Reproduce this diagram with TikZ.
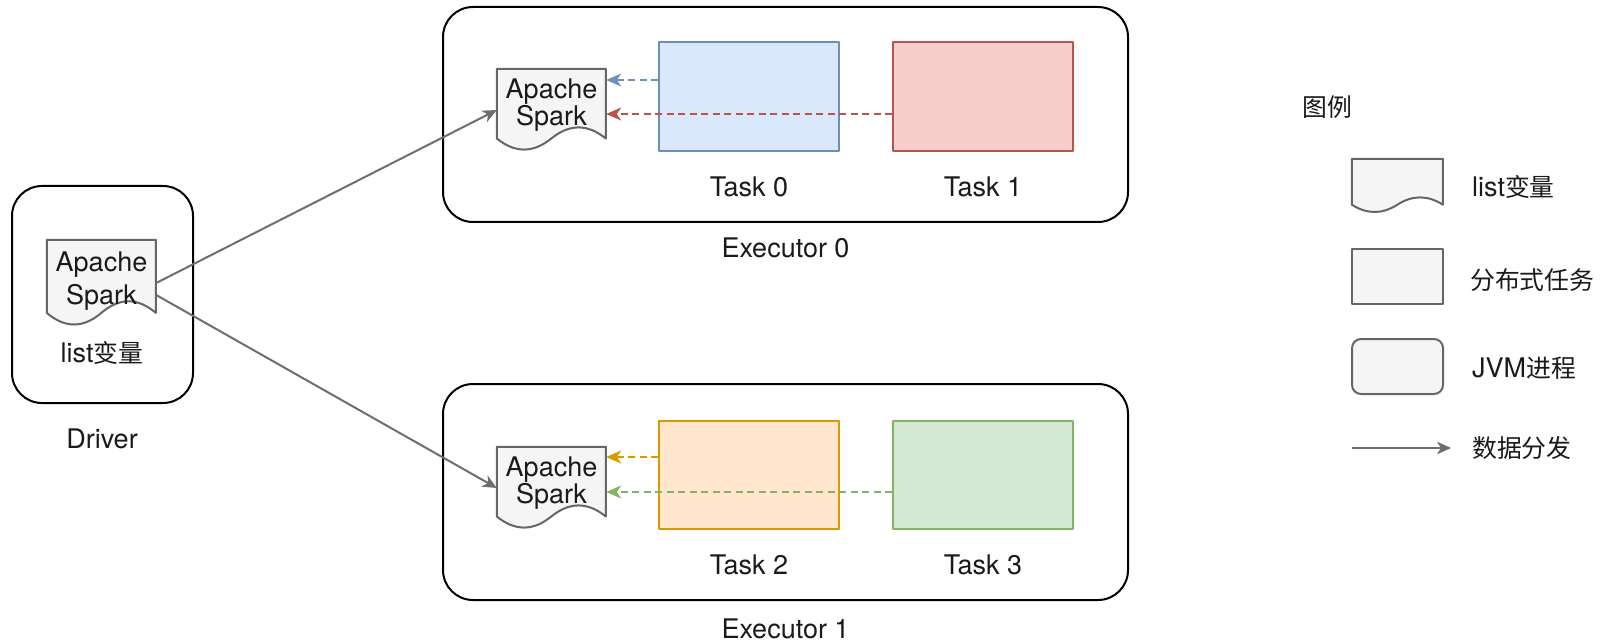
\documentclass[tikz,border=0pt]{standalone}
\usepackage{fontspec}
\setmainfont{TeX Gyre Heros}
\newfontfamily\cjk[Scale=0.92]{Noto Sans CJK SC}
\usetikzlibrary{arrows.meta}
\definecolor{docfill}{HTML}{F5F5F5}
\definecolor{docdraw}{HTML}{666666}
\definecolor{arrowgray}{HTML}{6E6E6E}
\definecolor{bluefill}{HTML}{DAE8FC}
\definecolor{bluedraw}{HTML}{6C8EBF}
\definecolor{redfill}{HTML}{F8CECC}
\definecolor{reddraw}{HTML}{B85450}
\definecolor{orfill}{HTML}{FFE6CC}
\definecolor{ordraw}{HTML}{D79B00}
\definecolor{grfill}{HTML}{D5E8D4}
\definecolor{grdraw}{HTML}{82B366}
\definecolor{txt}{HTML}{1A1A1A}
\newcommand\docoutline[3]{%
  \begin{scope}[shift={(#1.north west)}, x=#2pt, y=-#3pt]
    \draw[docline] (0,0) -- (1,0) -- (1,0.85)
      .. controls (0.8333,0.67) and (0.6667,0.67) .. (0.5,0.85)
      .. controls (0.3333,1.03) and (0.1667,1.03) .. (0,0.85) -- cycle;
  \end{scope}}
\tikzset{
  jvm/.style={draw=black, line width=2pt, rounded corners=30pt, fill=white, inner sep=0},
  taskbox/.style={line width=2pt, minimum width=180pt, minimum height=109pt, inner sep=0},
  docbox/.style={minimum width=109pt, minimum height=82pt, inner sep=0},
  docline/.style={draw=docdraw, fill=docfill, line width=2pt},
  doctext/.style={align=center, inner sep=0, text=txt},
  flow/.style={draw=arrowgray, line width=2pt, -{Stealth[length=14pt,width=12.5pt,inset=4pt]}},
  back/.style={line width=2pt, dash pattern=on 7pt off 4.5pt, -{Stealth[length=15pt,width=13pt,inset=4.5pt]}},
  lbl/.style={anchor=base, inner sep=0, text=txt},
  lgl/.style={anchor=base west, inner sep=0, text=txt},
  lgshape/.style={draw=docdraw, fill=docfill, line width=2pt, minimum width=91pt, minimum height=55pt, inner sep=0},
}
\begin{document}
\begin{tikzpicture}[x=1pt, y=-1pt, font=\fontsize{27}{26}\selectfont, line join=round]
\useasboundingbox (0,0) rectangle (1600,644);

% Driver
\node[jvm, minimum width=181pt, minimum height=217pt] (driver) at (102.5,294.5) {};
\node[docbox, minimum height=86pt] (drvdoc) at (101.5,283) {};
\docoutline{drvdoc}{109}{86}
\node[doctext, font=\fontsize{27}{32.5}\selectfont] (drvtext) at (101.5,281) {Apache\\Spark};
\node[lbl] (drvvar) at (102,362) {list{\cjk 变量}};
\node[lbl] (drvlbl) at (102,448) {Driver};

% Executor 0
\node[jvm, minimum width=685pt, minimum height=215pt] (exec0) at (785.5,114.5) {};
\node[lbl] (exec0lbl) at (785.5,258) {Executor 0};
\node[taskbox, draw=bluedraw, fill=bluefill] (t0) at (749,96.5) {};
\node[taskbox, draw=reddraw, fill=redfill] (t1) at (983,96.5) {};
\node[lbl] (t0lbl) at (749,197) {Task 0};
\node[lbl] (t1lbl) at (983,197) {Task 1};
\node[docbox] (doc0) at (551.5,110) {};
\docoutline{doc0}{109}{82}
\node[doctext] (doc0text) at (551.5,105) {Apache\\Spark};

% Executor 1
\node[jvm, minimum width=685pt, minimum height=216pt] (exec1) at (785.5,492) {};
\node[lbl] (exec1lbl) at (785.5,638) {Executor 1};
\node[taskbox, minimum height=108pt, draw=ordraw, fill=orfill] (t2) at (749,475) {};
\node[taskbox, minimum height=108pt, draw=grdraw, fill=grfill] (t3) at (983,475) {};
\node[lbl] (t2lbl) at (749,574) {Task 2};
\node[lbl] (t3lbl) at (983,574) {Task 3};
\node[docbox] (doc1) at (551.5,488) {};
\docoutline{doc1}{109}{82}
\node[doctext] (doc1text) at (551.5,483) {Apache\\Spark};

% data distribution
\draw[flow] (drvdoc.east) -- (doc0.west);
\draw[flow] ([yshift=-12pt]drvdoc.east) -- (doc1.west);

% task reads
\draw[back, color=bluedraw] ([yshift=16.5pt]t0.west) -- ([yshift=16.5pt]t0.west -| doc0.east);
\draw[back, color=reddraw] ([yshift=-17.5pt]t1.west) -- ([yshift=-17.5pt]t1.west -| doc0.east);
\draw[back, color=ordraw] ([yshift=18pt]t2.west) -- ([yshift=18pt]t2.west -| doc1.east);
\draw[back, color=grdraw] ([yshift=-17pt]t3.west) -- ([yshift=-17pt]t3.west -| doc1.east);

% Legend
\node[lgl] (lgtitle) at (1302,117) {\cjk 图例};
\node[docbox, minimum width=91pt, minimum height=54pt] (lgdoc) at (1397.5,186) {};
\docoutline{lgdoc}{91}{54}
\node[lgl] (lgdoclbl) at (1472,197) {list{\cjk 变量}};
\node[lgshape] (lgtask) at (1397.5,276.5) {};
\node[lgl] (lgtasklbl) at (1470,289) {\cjk 分布式任务};
\node[lgshape, rounded corners=9pt] (lgjvm) at (1397.5,366.5) {};
\node[lgl] (lgjvmlbl) at (1472,377) {JVM{\cjk 进程}};
\coordinate (lga) at (1352,448);
\coordinate (lgb) at (1451,448);
\draw[flow] (lga) -- (lgb);
\node[lgl] (lgflowlbl) at (1472,457) {\cjk 数据分发};
\end{tikzpicture}
\end{document}
